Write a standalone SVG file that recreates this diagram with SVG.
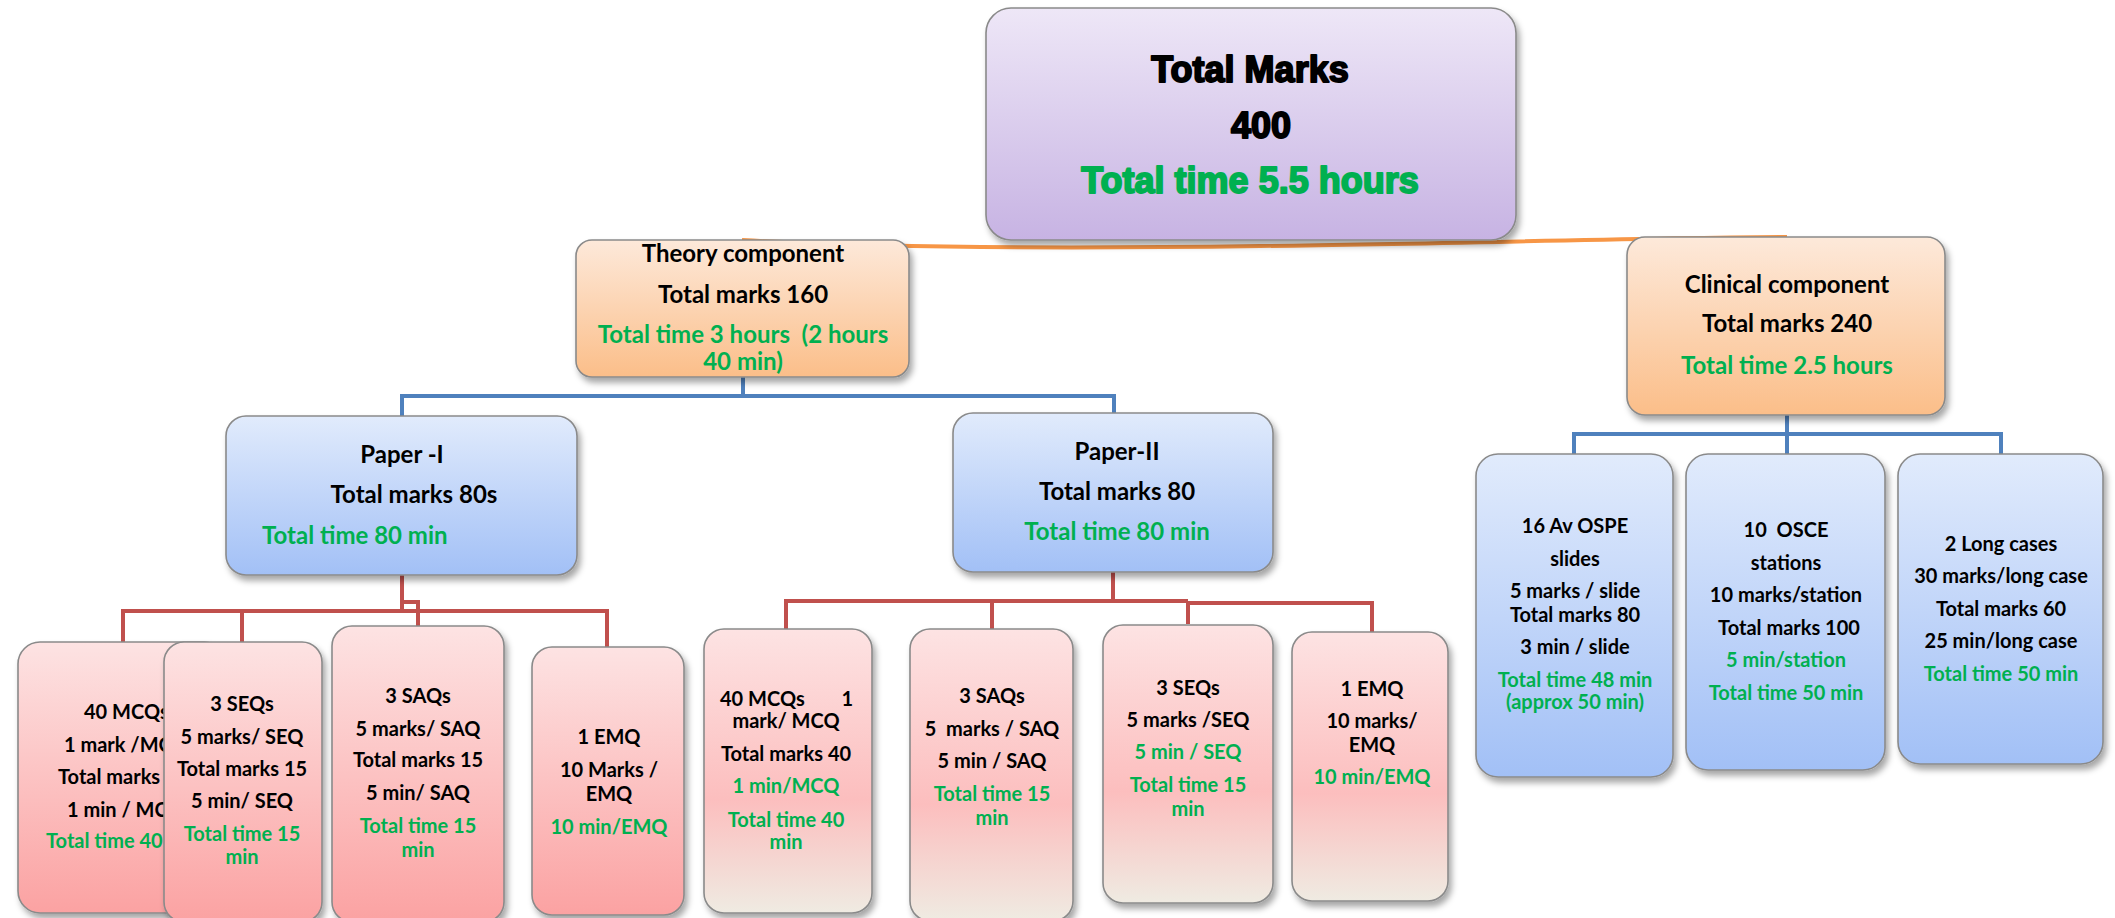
<svg xmlns="http://www.w3.org/2000/svg" width="2115" height="918" viewBox="0 0 2115 918">
  <defs>
    <linearGradient id="gPurple" x1="0" y1="0" x2="0" y2="1">
      <stop offset="0" stop-color="#EEE7F7"/>
      <stop offset="1" stop-color="#C7B3E3"/>
    </linearGradient>
    <linearGradient id="gOrange" x1="0" y1="0" x2="0" y2="1">
      <stop offset="0" stop-color="#FDE9DA"/>
      <stop offset="1" stop-color="#FBBE89"/>
    </linearGradient>
    <linearGradient id="gBlue" x1="0" y1="0" x2="0" y2="1">
      <stop offset="0" stop-color="#E1EBFC"/>
      <stop offset="1" stop-color="#A2C0F6"/>
    </linearGradient>
    <linearGradient id="gPink" x1="0" y1="0" x2="0" y2="1">
      <stop offset="0" stop-color="#FDE3E3"/>
      <stop offset="1" stop-color="#FBA2A2"/>
    </linearGradient>
    <linearGradient id="gPinkFade" x1="0" y1="0" x2="0" y2="1">
      <stop offset="0" stop-color="#FDE3E3"/>
      <stop offset="0.6" stop-color="#FCBEBE"/>
      <stop offset="1" stop-color="#EFEBE2"/>
    </linearGradient>
    <filter id="shadow" x="-10%" y="-10%" width="125%" height="125%">
      <feDropShadow dx="3" dy="5" stdDeviation="3" flood-color="#000" flood-opacity="0.35"/>
    </filter>
    <clipPath id="clipB1">
      <rect x="18" y="642" width="146" height="276"/>
    </clipPath>
  </defs>
  <style>
    .box { stroke: #8A8A8A; stroke-width: 1.6; filter: url(#shadow); }
    .purple { fill: url(#gPurple); }
    .orange { fill: url(#gOrange); }
    .blue { fill: url(#gBlue); }
    .pink { fill: url(#gPink); }
    .pinkfade { fill: url(#gPinkFade); }
    .c-orange { fill: none; stroke: #F79646; stroke-width: 4; }
    .c-blue { fill: none; stroke: #4F81BD; stroke-width: 4; }
    .c-red { fill: none; stroke: #C0504D; stroke-width: 4; }
    text { font-family: Lato, "Liberation Sans", sans-serif; font-weight: 700; fill: #000; text-anchor: middle; }
    .head { font-family: "Liberation Sans", Arial, sans-serif; font-size: 36px; stroke: #000; stroke-width: 1.9; stroke-linejoin: round; }
    .head.g { stroke: #00B050; }
    .m { font-size: 24px; }
    .s { font-size: 20px; }
    .g { fill: #00B050; }
    .st { text-anchor: start; }
    .en { text-anchor: end; }
  </style>

  <!-- connectors -->
  <g id="connectors">
    <path class="c-orange" d="M742,240 C900,249 1120,248 1260,246 C1450,244 1620,238 1787,237"/>
    <path class="c-blue" d="M743,377 V396 M402,416 V396 H1114 V413"/>
    <path class="c-blue" d="M1787,415 V434 M1574,454 V434 H2001 V454 M1787,434 V454"/>
    <path class="c-red" d="M402,575 V611 M123,642 V611 H607 V647 M242,611 V642 M402,602 H418 V626"/>
    <path class="c-red" d="M1113,572 V601 M786,629 V601 H1188 M992,601 V629 M1188,624 V603 H1372 V632"/>
  </g>

  <!-- top level -->
  <g id="total">
    <rect class="box purple" x="986" y="8" width="530" height="232" rx="25"/>
    <text class="head" x="1250" y="82">Total Marks</text>
    <text class="head" x="1261" y="138">400</text>
    <text class="head g" x="1250" y="193">Total time 5.5 hours</text>
  </g>

  <g id="theory">
    <rect class="box orange" x="576" y="240" width="333" height="137" rx="16"/>
    <text class="m" x="743" y="262">Theory component</text>
    <text class="m" x="743" y="303">Total marks 160</text>
    <text class="m g" x="743" y="343" xml:space="preserve">Total time 3 hours  (2 hours</text>
    <text class="m g" x="743" y="370">40 min)</text>
  </g>

  <g id="clinical">
    <rect class="box orange" x="1627" y="237" width="318" height="178" rx="18"/>
    <text class="m" x="1787" y="293">Clinical component</text>
    <text class="m" x="1787" y="332">Total marks 240</text>
    <text class="m g" x="1787" y="374">Total time 2.5 hours</text>
  </g>

  <g id="paper1">
    <rect class="box blue" x="226" y="416" width="351" height="159" rx="20"/>
    <text class="m" x="402" y="463">Paper -I</text>
    <text class="m" x="414" y="503">Total marks 80s</text>
    <text class="m g st" x="262" y="544">Total time 80 min</text>
  </g>

  <g id="paper2">
    <rect class="box blue" x="953" y="413" width="320" height="159" rx="20"/>
    <text class="m" x="1117" y="460">Paper-II</text>
    <text class="m" x="1117" y="500">Total marks 80</text>
    <text class="m g" x="1117" y="540">Total time 80 min</text>
  </g>

  <!-- clinical parts -->
  <g id="ospe">
    <rect class="box blue" x="1476" y="454" width="197" height="323" rx="22"/>
    <text class="s" x="1575" y="533">16 Av OSPE</text>
    <text class="s" x="1575" y="566">slides</text>
    <text class="s" x="1575" y="598">5 marks / slide</text>
    <text class="s" x="1575" y="622">Total marks 80</text>
    <text class="s" x="1575" y="654">3 min / slide</text>
    <text class="s g" x="1575" y="687">Total time 48 min</text>
    <text class="s g" x="1575" y="709">(approx 50 min)</text>
  </g>

  <g id="osce">
    <rect class="box blue" x="1686" y="454" width="199" height="316" rx="22"/>
    <text class="s" x="1786" y="537" xml:space="preserve">10  OSCE</text>
    <text class="s" x="1786" y="570">stations</text>
    <text class="s" x="1786" y="602">10 marks/station</text>
    <text class="s" x="1789" y="635">Total marks 100</text>
    <text class="s g" x="1786" y="667">5 min/station</text>
    <text class="s g" x="1786" y="700">Total time 50 min</text>
  </g>

  <g id="longcase">
    <rect class="box blue" x="1898" y="454" width="205" height="310" rx="22"/>
    <text class="s" x="2001" y="551">2 Long cases</text>
    <text class="s" x="2001" y="583">30 marks/long case</text>
    <text class="s" x="2001" y="616">Total marks 60</text>
    <text class="s" x="2001" y="648">25 min/long case</text>
    <text class="s g" x="2001" y="681">Total time 50 min</text>
  </g>

  <!-- Paper-I parts; the MCQ card sits partly behind the SEQ card -->
  <g id="p1-mcq">
    <rect class="box pink" x="18" y="642" width="208" height="271" rx="22"/>
    <g clip-path="url(#clipB1)">
      <text class="s st" x="84" y="719">40 MCQs</text>
      <text class="s st" x="64" y="752">1 mark /MC</text>
      <text class="s st" x="58" y="784">Total marks</text>
      <text class="s st" x="67" y="817">1 min / MC</text>
      <text class="s g st" x="46" y="848">Total time 40</text>
    </g>
  </g>

  <g id="p1-seq">
    <rect class="box pink" x="164" y="642" width="158" height="280" rx="20"/>
    <text class="s" x="242" y="711">3 SEQs</text>
    <text class="s" x="242" y="744">5 marks/ SEQ</text>
    <text class="s" x="242" y="776">Total marks 15</text>
    <text class="s" x="242" y="808">5 min/ SEQ</text>
    <text class="s g" x="242" y="841">Total time 15</text>
    <text class="s g" x="242" y="864">min</text>
  </g>

  <g id="p1-saq">
    <rect class="box pink" x="332" y="626" width="172" height="296" rx="20"/>
    <text class="s" x="418" y="703">3 SAQs</text>
    <text class="s" x="418" y="736">5 marks/ SAQ</text>
    <text class="s" x="418" y="767">Total marks 15</text>
    <text class="s" x="418" y="800">5 min/ SAQ</text>
    <text class="s g" x="418" y="833">Total time 15</text>
    <text class="s g" x="418" y="857">min</text>
  </g>

  <g id="p1-emq">
    <rect class="box pink" x="532" y="647" width="152" height="268" rx="20"/>
    <text class="s" x="609" y="744">1 EMQ</text>
    <text class="s" x="609" y="777">10 Marks /</text>
    <text class="s" x="609" y="801">EMQ</text>
    <text class="s g" x="609" y="834">10 min/EMQ</text>
  </g>

  <!-- Paper-II parts -->
  <g id="p2-mcq">
    <rect class="box pinkfade" x="704" y="629" width="168" height="284" rx="20"/>
    <text class="s st" x="720" y="706">40 MCQs</text>
    <text class="s en" x="853" y="706">1</text>
    <text class="s" x="786" y="728">mark/ MCQ</text>
    <text class="s" x="786" y="761">Total marks 40</text>
    <text class="s g" x="786" y="793">1 min/MCQ</text>
    <text class="s g" x="786" y="827">Total time 40</text>
    <text class="s g" x="786" y="849">min</text>
  </g>

  <g id="p2-saq">
    <rect class="box pinkfade" x="910" y="629" width="163" height="292" rx="20"/>
    <text class="s" x="992" y="703">3 SAQs</text>
    <text class="s" x="992" y="736" xml:space="preserve">5  marks / SAQ</text>
    <text class="s" x="992" y="768">5 min / SAQ</text>
    <text class="s g" x="992" y="801">Total time 15</text>
    <text class="s g" x="992" y="825">min</text>
  </g>

  <g id="p2-seq">
    <rect class="box pinkfade" x="1103" y="625" width="170" height="278" rx="20"/>
    <text class="s" x="1188" y="695">3 SEQs</text>
    <text class="s" x="1188" y="727">5 marks /SEQ</text>
    <text class="s g" x="1188" y="759">5 min / SEQ</text>
    <text class="s g" x="1188" y="792">Total time 15</text>
    <text class="s g" x="1188" y="816">min</text>
  </g>

  <g id="p2-emq">
    <rect class="box pinkfade" x="1292" y="632" width="156" height="269" rx="20"/>
    <text class="s" x="1372" y="696">1 EMQ</text>
    <text class="s" x="1372" y="728">10 marks/</text>
    <text class="s" x="1372" y="752">EMQ</text>
    <text class="s g" x="1372" y="784">10 min/EMQ</text>
  </g>
</svg>
